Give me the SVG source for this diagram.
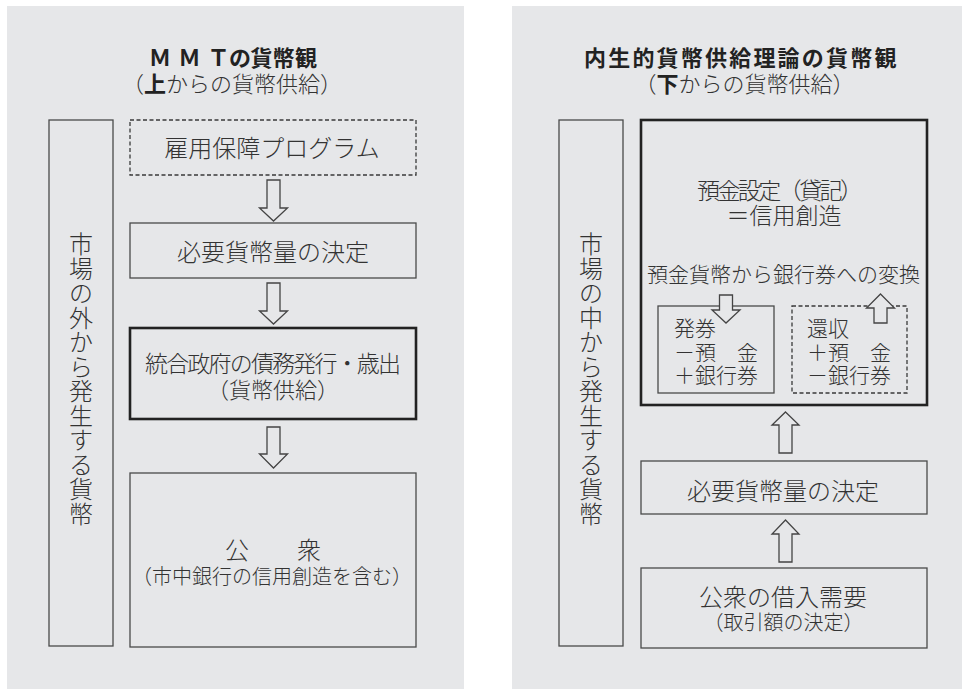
<svg xmlns="http://www.w3.org/2000/svg" width="962" height="689" viewBox="0 0 962 689">
<style>
.panel{fill:#e6e7e9;stroke:none}
.box{fill:#e6e7e9;stroke:#4a4a4a;stroke-width:1.3}
.bold{fill:#e6e7e9;stroke:#222;stroke-width:2.6}
.dash{fill:#e6e7e9;stroke:#3a3a3a;stroke-width:1.3;stroke-dasharray:4 2.5}
.arrow{fill:#e6e7e9;stroke:#444;stroke-width:1.3;stroke-linejoin:miter}
text{font-family:"Noto Sans CJK JP","Noto Sans CJK SC",sans-serif;fill:#333;font-weight:300}
.t24{font-size:24px}
.t23{font-size:23px}
.t22{font-size:22px}
.t21{font-size:21px}
.t20{font-size:20px}
.title{font-size:22px;font-weight:bold;fill:#222}
.mid{text-anchor:middle}
</style>
<rect width="962" height="689" fill="#ffffff"/>
<rect class="panel" x="7" y="6" width="457" height="683"/>
<rect class="panel" x="512" y="6" width="450" height="683"/>

<!-- Left panel -->
<g id="left-title">
  <text class="title" x="149 178.5 207.5 229 250.5 272.5 295" y="65.5">ＭＭＴの貨幣観</text>
  <text class="t22 mid" x="232" y="92">（<tspan font-weight="bold" fill="#222">上</tspan>からの貨幣供給）</text>
</g>
<g id="left-side">
  <rect class="box" x="49" y="120" width="64" height="526"/>
  <text class="t24 mid"><tspan x="81" y="253">市</tspan><tspan x="81" y="277.5">場</tspan><tspan x="81" y="302">の</tspan><tspan x="81" y="326.5">外</tspan><tspan x="81" y="351">か</tspan><tspan x="81" y="375.5">ら</tspan><tspan x="81" y="400">発</tspan><tspan x="81" y="424.5">生</tspan><tspan x="81" y="449">す</tspan><tspan x="81" y="473.5">る</tspan><tspan x="81" y="498">貨</tspan><tspan x="81" y="522.5">幣</tspan></text>
</g>
<g id="koyo">
  <rect class="dash" x="130" y="120" width="286" height="55"/>
  <text class="t24 mid" x="272" y="157">雇用保障プログラム</text>
</g>
<g id="hitsuyo-left">
  <rect class="box" x="130" y="223" width="286" height="55"/>
  <text class="t24 mid" x="273" y="261">必要貨幣量の決定</text>
</g>
<g id="seifu">
  <rect class="bold" x="130" y="328" width="286" height="91"/>
  <text class="t23 mid" x="273" y="372" textLength="256" lengthAdjust="spacing">統合政府の債務発行・歳出</text>
  <text class="t22 mid" x="273" y="398">（貨幣供給）</text>
</g>
<g id="koshu">
  <rect class="box" x="130" y="473" width="286" height="174"/>
  <text class="t24 mid" x="273" y="559">公　　衆</text>
  <text class="t20 mid" x="272" y="584">（市中銀行の信用創造を含む）</text>
</g>

<!-- Right panel -->
<g id="right-title">
  <text class="title" x="584" y="65.5" letter-spacing="2.2">内生的貨幣供給理論の貨幣観</text>
  <text class="t22 mid" x="744.5" y="92">（<tspan font-weight="bold" fill="#222">下</tspan>からの貨幣供給）</text>
</g>
<g id="right-side">
  <rect class="box" x="559" y="120" width="64" height="526"/>
  <text class="t24 mid"><tspan x="591" y="253">市</tspan><tspan x="591" y="277.5">場</tspan><tspan x="591" y="302">の</tspan><tspan x="591" y="326.5">中</tspan><tspan x="591" y="351">か</tspan><tspan x="591" y="375.5">ら</tspan><tspan x="591" y="400">発</tspan><tspan x="591" y="424.5">生</tspan><tspan x="591" y="449">す</tspan><tspan x="591" y="473.5">る</tspan><tspan x="591" y="498">貨</tspan><tspan x="591" y="522.5">幣</tspan></text>
</g>
<g id="yokin">
  <rect class="bold" x="641" y="120" width="286" height="285"/>
  <text class="t23" x="697" y="199" textLength="166" lengthAdjust="spacing">預金設定（貸記）</text>
  <text class="t23 mid" x="784" y="224">＝信用創造</text>
  <text class="t21 mid" x="783.5" y="282">預金貨幣から銀行券への変換</text>
</g>
<g id="hakken">
  <rect class="box" x="658" y="306" width="116" height="87"/>
  <text class="t21" x="674" y="336">発券</text>
  <text class="t21" x="674" y="360">－預　金</text>
  <text class="t21" x="674" y="383">＋銀行券</text>
</g>
<g id="kanshu">
  <rect class="dash" x="792" y="306" width="115" height="87"/>
  <text class="t21" x="807" y="336">還収</text>
  <text class="t21" x="807" y="360">＋預　金</text>
  <text class="t21" x="807" y="383">－銀行券</text>
</g>
<g id="hitsuyo-right">
  <rect class="box" x="641" y="461" width="286" height="53"/>
  <text class="t24 mid" x="783" y="499.5">必要貨幣量の決定</text>
</g>
<g id="kariire">
  <rect class="box" x="641" y="568" width="286" height="80"/>
  <text class="t24 mid" x="783" y="606">公衆の借入需要</text>
  <text class="t20 mid" x="783.5" y="630">（取引額の決定）</text>
</g>

<g id="connectors">
  <path class="arrow" d="M267,180 H280 V208 H287.5 L273.5,221 L259.5,208 H267 Z"/>
  <path class="arrow" d="M267,283 H280 V311 H287.5 L273.5,324 L259.5,311 H267 Z"/>
  <path class="arrow" d="M267,427 H280 V454 H287.5 L273.5,468 L259.5,454 H267 Z"/>
  <path class="arrow" d="M785.5,412 L799,425 H792 V453 H779 V425 H772 Z"/>
  <path class="arrow" d="M785.5,520 L799,534 H792 V562 H779 V534 H772 Z"/>
  <path class="arrow" d="M719.5,295 H732.5 V310 H740 L726,323 L712,310 H719.5 Z"/>
  <path class="arrow" d="M880.5,294 L894.5,308 H887 V323 H874 V308 H866.5 Z"/>
</g>
</svg>
